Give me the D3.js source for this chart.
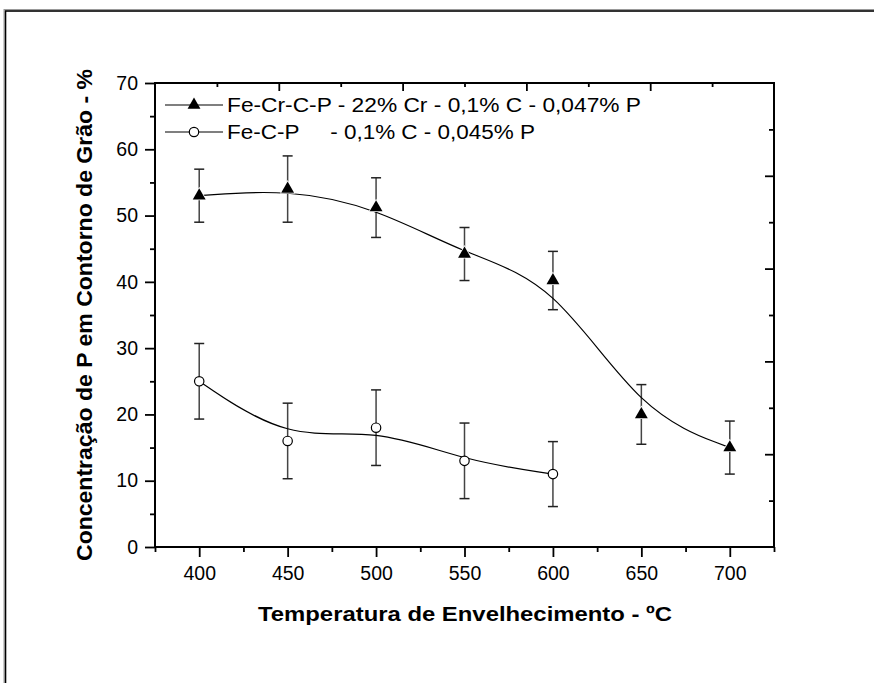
<!DOCTYPE html>
<html>
<head>
<meta charset="utf-8">
<script src="https://cdn.jsdelivr.net/npm/d3@7"></script>
<style>
  body { margin: 0; background: #fff; }
  svg { font-family: "Liberation Sans", Arial, sans-serif; }
</style>
</head>
<body>
<div id="chart"></div>
<script>
// Data
const temps1 = [400, 450, 500, 550, 600, 650, 700];
const conc1 = [53, 54, 51.2, 44.2, 40.2, 20, 15];
const err1 = [4, 5, 4.5, 4, 4.4, 4.5, 4];

const temps2 = [400, 450, 500, 550, 600];
const conc2 = [25, 16, 18, 13, 11];
const err2 = [5.7, 5.7, 5.7, 5.7, 4.9];

const legendLabels = ["Fe-Cr-C-P - 22% Cr - 0,1% C - 0,047% P", "Fe-C-P     - 0,1% C - 0,045% P"];
const xMajor = [400, 450, 500, 550, 600, 650, 700];
const xMinor = [375, 425, 475, 525, 575, 625, 675, 725];
const yMajor = [0, 10, 20, 30, 40, 50, 60, 70];
const yMinor = [5, 15, 25, 35, 45, 55, 65];

const width = 874, height = 683;
const plot = {left: 155, right: 774, top: 83, bottom: 547};

let svg = d3.select("#chart")
    .append("svg")
    .attr("width", width)
    .attr("height", height);

// outer frame
svg.append("rect")
    .attr("x", 4).attr("y", 9.5)
    .attr("width", 900).attr("height", 700)
    .attr("fill", "none").attr("stroke", "#999").attr("stroke-width", 1);
svg.append("rect")
    .attr("x", 5.5).attr("y", 11)
    .attr("width", 900).attr("height", 700)
    .attr("fill", "none").attr("stroke", "#000").attr("stroke-width", 1.6);

// scales
let x = d3.scaleLinear().domain([375, 725]).range([plot.left, plot.right]);
let y = d3.scaleLinear().domain([0, 70]).range([plot.bottom, plot.top]);
// top and right axes use their own 10-step divisions
let xTop = d3.scaleLinear().domain([0, 10]).range([plot.left, plot.right]);
let yRight = d3.scaleLinear().domain([0, 10]).range([plot.bottom, plot.top]);

function styleAxis(g) {
    g.select(".domain").remove();
    g.selectAll("line").attr("stroke", "#000").attr("stroke-width", 1.8);
    g.selectAll("text").attr("font-size", 19.5).attr("fill", "#000");
}

// bottom axis: major and minor
svg.append("g")
    .attr("transform", `translate(0, ${plot.bottom})`)
    .call(d3.axisBottom(x).tickValues(xMajor).tickSize(10).tickPadding(9).tickFormat(d3.format("d")))
    .call(styleAxis);
svg.append("g")
    .attr("transform", `translate(0, ${plot.bottom})`)
    .call(d3.axisBottom(x).tickValues(xMinor).tickSize(5).tickFormat(""))
    .call(styleAxis);

// left axis
svg.append("g")
    .attr("transform", `translate(${plot.left}, 0)`)
    .call(d3.axisLeft(y).tickValues(yMajor).tickSize(10).tickPadding(7).tickFormat(d3.format("d")))
    .call(styleAxis);
svg.append("g")
    .attr("transform", `translate(${plot.left}, 0)`)
    .call(d3.axisLeft(y).tickValues(yMinor).tickSize(5).tickFormat(""))
    .call(styleAxis);

// top axis, ticks inward
svg.append("g")
    .attr("transform", `translate(0, ${plot.top})`)
    .call(d3.axisBottom(xTop).tickValues([2, 4, 6, 8]).tickSize(8).tickFormat(""))
    .call(styleAxis);
svg.append("g")
    .attr("transform", `translate(0, ${plot.top})`)
    .call(d3.axisBottom(xTop).tickValues([1, 3, 5, 7, 9]).tickSize(4).tickFormat(""))
    .call(styleAxis);

// right axis, ticks inward
svg.append("g")
    .attr("transform", `translate(${plot.right}, 0)`)
    .call(d3.axisLeft(yRight).tickValues([2, 4, 6, 8]).tickSize(9).tickFormat(""))
    .call(styleAxis);
svg.append("g")
    .attr("transform", `translate(${plot.right}, 0)`)
    .call(d3.axisLeft(yRight).tickValues([1, 3, 5, 7, 9]).tickSize(5).tickFormat(""))
    .call(styleAxis);

// frame lines
svg.append("rect")
    .attr("x", plot.left).attr("y", plot.top)
    .attr("width", plot.right - plot.left).attr("height", plot.bottom - plot.top)
    .attr("fill", "none").attr("stroke", "#000").attr("stroke-width", 2);

// axis titles
svg.append("text")
    .attr("x", 465).attr("y", 621)
    .attr("text-anchor", "middle")
    .attr("font-size", 21).attr("font-weight", "bold")
    .attr("textLength", 414).attr("lengthAdjust", "spacingAndGlyphs")
    .text("Temperatura de Envelhecimento - ºC");

svg.append("text")
    .attr("transform", "translate(92, 315) rotate(-90)")
    .attr("text-anchor", "middle")
    .attr("font-size", 22).attr("font-weight", "bold")
    .attr("textLength", 492).attr("lengthAdjust", "spacingAndGlyphs")
    .text("Concentração de P em Contorno de Grão - %");

// series
const series1 = temps1.map((t, i) => ({t: t, v: conc1[i], e: err1[i]}));
const series2 = temps2.map((t, i) => ({t: t, v: conc2[i], e: err2[i]}));

let line = d3.line()
    .x(d => x(d.t))
    .y(d => y(d.v))
    .curve(d3.curveBasis);

function drawErrors(data) {
    let g = svg.append("g").attr("stroke", "#444").attr("stroke-width", 1.5);
    g.selectAll("line.v").data(data).enter().append("line")
        .attr("x1", d => x(d.t)).attr("x2", d => x(d.t))
        .attr("y1", d => y(d.v + d.e)).attr("y2", d => y(d.v - d.e));
    g.selectAll("line.top").data(data).enter().append("line")
        .attr("x1", d => x(d.t) - 5).attr("x2", d => x(d.t) + 5)
        .attr("y1", d => y(d.v + d.e)).attr("y2", d => y(d.v + d.e))
        .attr("stroke", "#222");
    g.selectAll("line.bot").data(data).enter().append("line")
        .attr("x1", d => x(d.t) - 5).attr("x2", d => x(d.t) + 5)
        .attr("y1", d => y(d.v - d.e)).attr("y2", d => y(d.v - d.e))
        .attr("stroke", "#222");
}

drawErrors(series1);
drawErrors(series2);

svg.append("path").datum(series1)
    .attr("d", line).attr("fill", "none").attr("stroke", "#000").attr("stroke-width", 1.2);
svg.append("path").datum(series2)
    .attr("d", line).attr("fill", "none").attr("stroke", "#000").attr("stroke-width", 1.2);

let tri = d3.symbol().type(d3.symbolTriangle).size(72);

svg.selectAll(".tri").data(series1).enter().append("path")
    .attr("class", "tri")
    .attr("transform", d => `translate(${x(d.t)}, ${y(d.v)})`)
    .attr("d", tri)
    .attr("fill", "#000").attr("stroke", "#fff").attr("stroke-width", 1.5)
    .style("paint-order", "stroke");

svg.selectAll(".circ").data(series2).enter().append("circle")
    .attr("class", "circ")
    .attr("cx", d => x(d.t)).attr("cy", d => y(d.v))
    .attr("r", 4.7)
    .attr("fill", "#fff").attr("stroke", "#000").attr("stroke-width", 1.2);

// legend (text is stretched wider in the original export)
const legendY = [105, 132];
const legendLen = [414, 308];
legendY.forEach((ly, i) => {
    let g = svg.append("g");
    g.append("line").attr("x1", 165).attr("x2", 223).attr("y1", ly).attr("y2", ly)
        .attr("stroke", "#000").attr("stroke-width", 1.2);
    if (i === 0) {
        g.append("path").attr("transform", `translate(194, ${ly})`).attr("d", tri).attr("fill", "#000");
    } else {
        g.append("circle").attr("cx", 194).attr("cy", ly).attr("r", 4.7)
            .attr("fill", "#fff").attr("stroke", "#000").attr("stroke-width", 1.2);
    }
    g.append("text")
        .attr("x", 227).attr("y", ly + 7)
        .attr("font-size", 19.5)
        .attr("textLength", legendLen[i]).attr("lengthAdjust", "spacingAndGlyphs")
        .style("white-space", "pre")
        .text(legendLabels[i]);
});
</script>
</body>
</html>
